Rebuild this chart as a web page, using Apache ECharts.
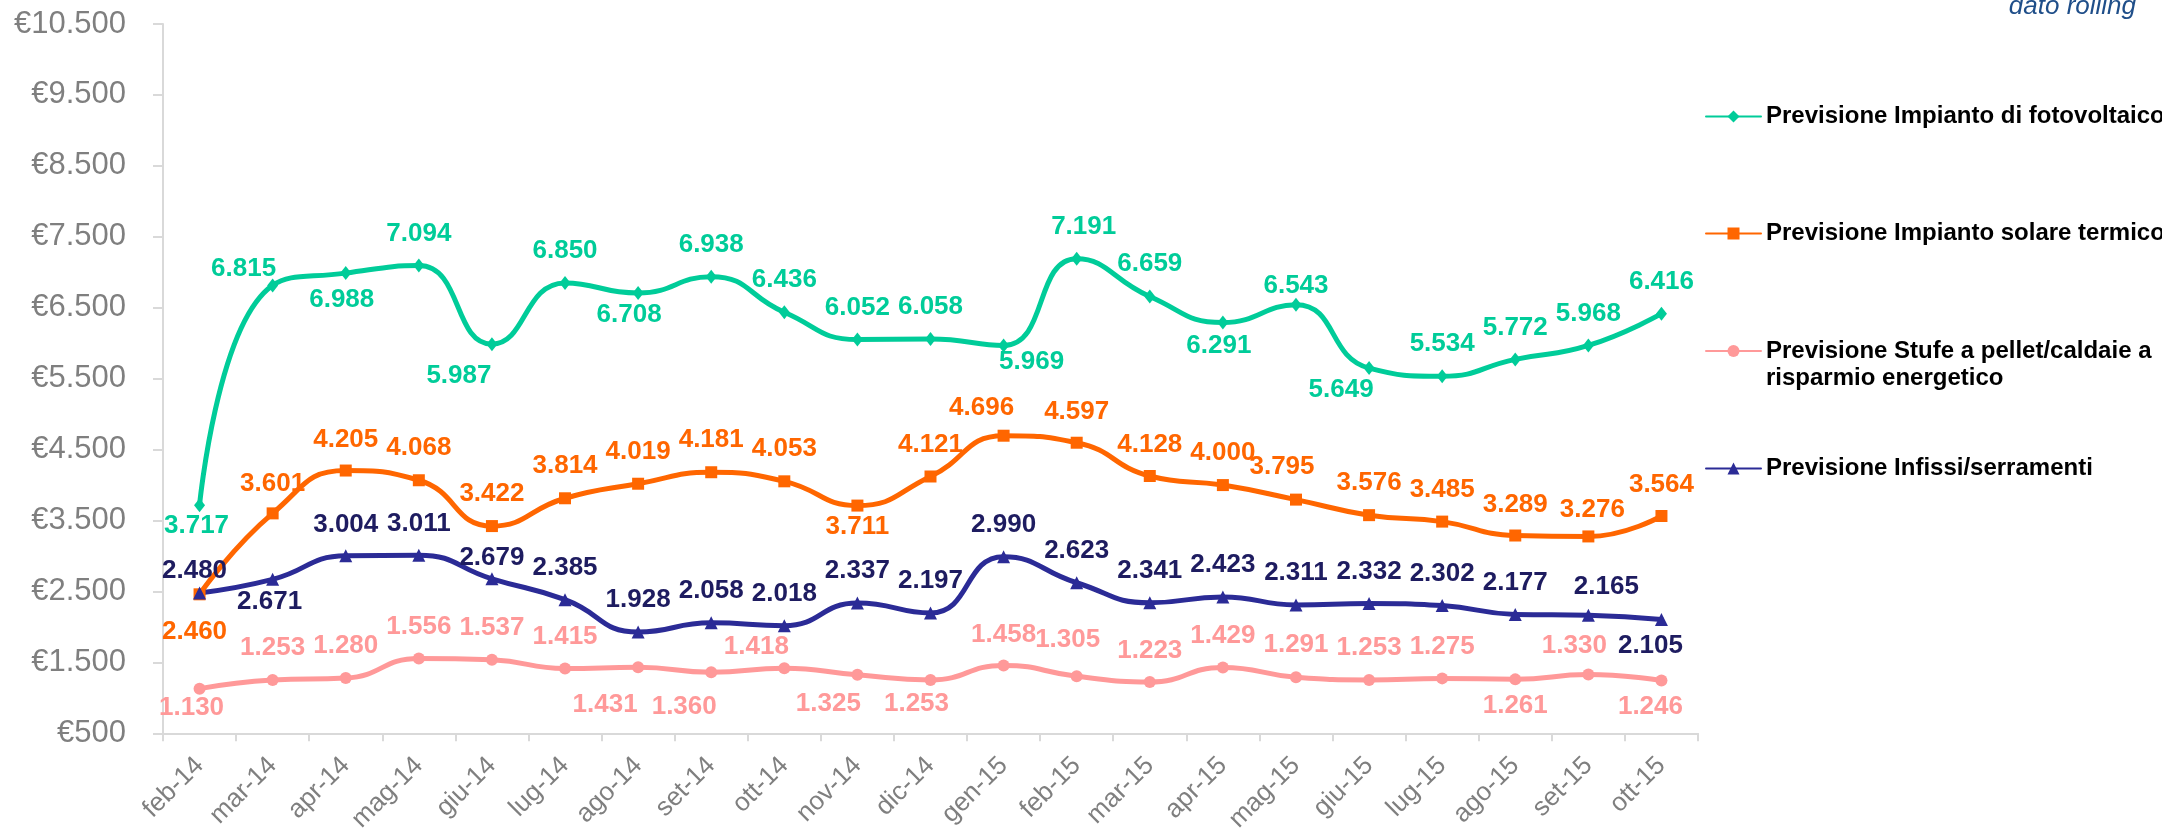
<!DOCTYPE html>
<html><head><meta charset="utf-8">
<script src="https://cdn.jsdelivr.net/npm/echarts@6/dist/echarts.min.js"></script>
<style>html,body{margin:0;padding:0;background:#fff}#c{width:2162px;height:835px}</style>
</head><body><div id="c"></div>
<script>
// ---------------- DATA ----------------
const categories = ['feb-14','mar-14','apr-14','mag-14','giu-14','lug-14','ago-14','set-14','ott-14','nov-14','dic-14','gen-15','feb-15','mar-15','apr-15','mag-15','giu-15','lug-15','ago-15','set-15','ott-15'];
const fotovoltaico  = [3717,6815,6988,7094,5987,6850,6708,6938,6436,6052,6058,5969,7191,6659,6291,6543,5649,5534,5772,5968,6416];
const solareTermico = [2460,3601,4205,4068,3422,3814,4019,4181,4053,3711,4121,4696,4597,4128,4000,3795,3576,3485,3289,3276,3564];
const stufePellet   = [1130,1253,1280,1556,1537,1415,1431,1360,1418,1325,1253,1458,1305,1223,1429,1291,1253,1275,1261,1330,1246];
const infissi       = [2480,2671,3004,3011,2679,2385,1928,2058,2018,2337,2197,2990,2623,2341,2423,2311,2332,2302,2177,2165,2105];
const yTicks = [500,1500,2500,3500,4500,5500,6500,7500,8500,9500,10500];
const seriesNames = [
  'Previsione Impianto di fotovoltaico',
  'Previsione Impianto solare termico',
  'Previsione Stufe a pellet/caldaie a risparmio energetico',
  'Previsione Infissi/serramenti'
];
const noteText = 'dato rolling';

// ---------------- LABEL PLACEMENT (style) ----------------
// t = above the point, b = below the point
const placeFoto   = 'btbtbtbttttbttbtbtttt';
const placeSolare = 'bttttttttbttttttttttt';
const placeStufe  = 'btttttbbtbbtttttttbtb';
const placeInf    = 'tbttttttttttttttttttb';
const shiftFoto   = [[-3,-3],[-29,15],[-4,3],[0,0],[-33,8],[0,0],[-9,-2],[0,0],[0,0],[0,0],[0,0],[28,-8],[7,0],[0,-1],[-4,-1],[0,13],[-28,-2],[0,0],[0,0],[0,0],[0,0]];
const shiftSolare = [[-5,14],[0,2],[0,1],[0,0],[0,0],[0,0],[0,0],[0,0],[0,0],[0,-3],[0,0],[-22,4],[0,1],[0,1],[0,0],[-14,-1],[0,0],[0,0],[0,1],[4,5],[0,1]];
const shiftStufe  = [[-8,-5],[0,0],[0,0],[0,0],[0,0],[0,0],[-33,14],[-27,10],[-28,11],[-29,5],[-14,0],[0,1],[-9,-4],[0,1],[0,0],[0,0],[0,0],[0,0],[0,2],[-14,3],[-11,2]];
const shiftInf    = [[-5,10],[-3,-2],[0,1],[0,1],[0,11],[0,0],[0,0],[0,0],[0,0],[0,0],[0,0],[0,0],[0,0],[0,0],[0,0],[0,0],[0,0],[0,0],[0,0],[18,4],[-11,2]];

const FONT = 'Liberation Sans, Arial, Helvetica, sans-serif';
function fmt(v) { return String(v).replace(/\B(?=(\d{3})+(?!\d))/g, '.'); }

function buildData(values, place, shift) {
  return values.map(function (v, i) {
    const above = place.charAt(i) !== 'b';
    const s = shift[i] || [0, 0];
    return { value: v, label: { offset: [s[0], (above ? -32 : 24) + s[1]] } };
  });
}

function makeSeries(name, values, place, shift, color, labelColor, symbol, symbolSize) {
  return {
    type: 'line',
    name: name,
    data: buildData(values, place, shift),
    smooth: 0.5,
    symbol: symbol,
    symbolSize: symbolSize,
    showAllSymbol: true,
    lineStyle: { color: color, width: 5, cap: 'round', join: 'round' },
    itemStyle: { color: color },
    label: {
      show: true,
      position: ['50%', '50%'],
      align: 'center',
      verticalAlign: 'middle',
      color: labelColor,
      fontFamily: FONT,
      fontSize: 26,
      fontWeight: 'bold',
      textBorderWidth: 0,
      formatter: function (p) { return fmt(p.value); }
    },
    emphasis: { disabled: true },
    animation: false
  };
}

const legendTops = [103, 220, 310.5, 455];
const legends = seriesNames.map(function (n, k) {
  return {
    data: [n],
    left: 1705,
    top: legendTops[k],
    orient: 'vertical',
    padding: 0,
    itemWidth: 55,
    itemHeight: 15,
    itemGap: 0,
    selectedMode: false,
    textStyle: { fontFamily: FONT, fontSize: 24, fontWeight: 'bold', color: '#000', lineHeight: 27 },
    formatter: function (name) {
      if (name === seriesNames[2]) return '\nPrevisione Stufe a pellet/caldaie a\nrisparmio energetico';
      return name;
    }
  };
});

const chart = echarts.init(document.getElementById('c'), null, { renderer: 'canvas' });
chart.setOption({
  backgroundColor: '#ffffff',
  animation: false,
  grid: { left: 163, right: 464, top: 24, bottom: 99 },
  legend: legends,
  xAxis: {
    type: 'category',
    data: categories,
    boundaryGap: true,
    axisLine: { show: true, lineStyle: { color: '#D9D9D9', width: 2 } },
    axisTick: { show: true, length: 8, interval: 0, alignWithLabel: false, lineStyle: { color: '#D9D9D9', width: 2 } },
    axisLabel: { interval: 0, rotate: 45, margin: 28, color: '#7F7F7F', fontFamily: FONT, fontSize: 26 },
    splitLine: { show: false }
  },
  yAxis: {
    type: 'value',
    min: 500,
    max: 10500,
    axisLine: { show: true, lineStyle: { color: '#D9D9D9', width: 2 } },
    axisTick: { show: true, length: 10, customValues: yTicks, lineStyle: { color: '#D9D9D9', width: 2 } },
    axisLabel: { customValues: yTicks, margin: 37, color: '#7F7F7F', fontFamily: FONT, fontSize: 31,
      formatter: function (v) { return '\u20AC' + fmt(v); } },
    splitLine: { show: false }
  },
  graphic: [{
    type: 'text',
    right: 26,
    top: -6,
    style: { text: noteText, fontFamily: FONT, fontSize: 26, fontStyle: 'italic', fill: '#1F4E89' }
  }],
  series: [
    makeSeries(seriesNames[0], fotovoltaico, placeFoto, shiftFoto, '#00CC99', '#00CC99', 'diamond', [11, 14]),
    makeSeries(seriesNames[1], solareTermico, placeSolare, shiftSolare, '#FF6600', '#FF6600', 'rect', 12),
    makeSeries(seriesNames[2], stufePellet, placeStufe, shiftStufe, '#FF9999', '#FF9999', 'circle', 12),
    makeSeries(seriesNames[3], infissi, placeInf, shiftInf, '#2B2B96', '#1E1C60', 'triangle', 13)
  ]
});
</script>
</body></html>
